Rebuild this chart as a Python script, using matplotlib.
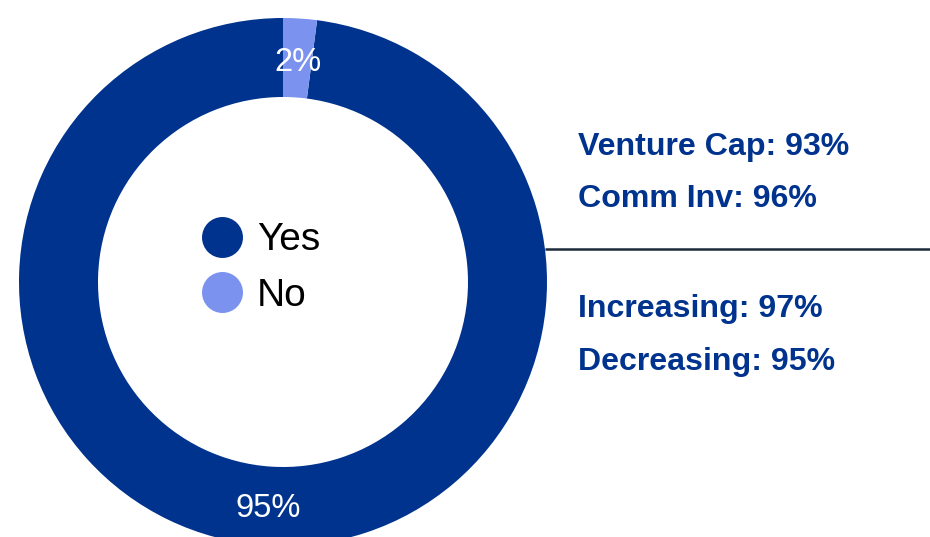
import matplotlib.pyplot as plt
from matplotlib.lines import Line2D

labels = ["Yes", "No"]
values = [95, 2]
colors = ["#00338D", "#7B93EE"]

side_top = ["Venture Cap: 93%", "Comm Inv: 96%"]
side_bottom = ["Increasing: 97%", "Decreasing: 95%"]

W, H = 930, 537
plt.rcParams["font.family"] = ["Liberation Sans", "DejaVu Sans"]

fig = plt.figure(figsize=(W / 100, H / 100), dpi=100, facecolor="white")
ax = fig.add_axes([0, 0, 1, 1])

# donut, working in pixel units (y measured from bottom)
wedges, texts, autotexts = ax.pie(
    values, colors=colors, startangle=90, center=(283, H - 282), radius=264,
    autopct=lambda p: f"{p * sum(values) / 100:.0f}%", pctdistance=0.845,
    wedgeprops=dict(width=264 - 185, linewidth=0),
    textprops=dict(color="white", fontsize=23.5),
)
for t in autotexts:
    t.set_va("center_baseline")

ax.set_xlim(0, W)
ax.set_ylim(0, H)
ax.set_aspect("equal")
ax.axis("off")

# legend in the hole
handles = [Line2D([], [], marker="o", linestyle="none", markersize=29.5,
                  markerfacecolor=c, markeredgewidth=0) for c in colors]
ax.legend(handles, labels, loc="center left", bbox_to_anchor=(183 / W, 1 - 268 / H),
          frameon=False, fontsize=28, handlelength=1.0, handletextpad=0.4,
          labelspacing=0.49, borderpad=0)

# side notes
blue = "#00338D"
for txt, y in zip(side_top, [147, 199]):
    ax.text(578, H - y, txt, fontsize=23.1, fontweight="bold", color=blue, va="center")
for txt, y in zip(side_bottom, [309, 362]):
    ax.text(578, H - y, txt, fontsize=23.1, fontweight="bold", color=blue, va="center")

ax.plot([545, W], [H - 249, H - 249], color="#1C2B3A", linewidth=1.8, solid_capstyle="butt")

fig.savefig("out.png", dpi=100, facecolor="white")
